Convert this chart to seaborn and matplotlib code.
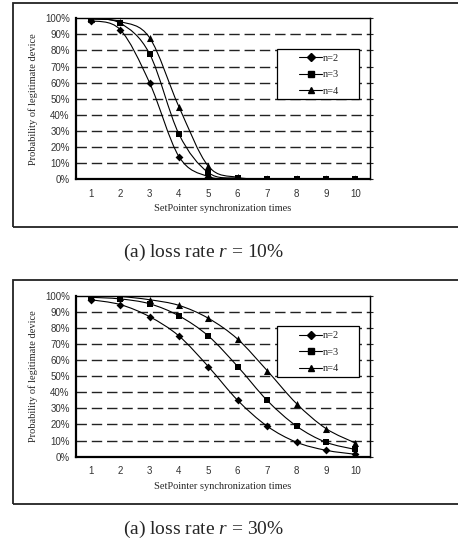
import numpy as np
import pandas as pd
import seaborn as sns
import matplotlib
matplotlib.use("Agg")
import matplotlib.pyplot as plt
from matplotlib.path import Path
from matplotlib.patches import PathPatch, Rectangle
from matplotlib.lines import Line2D

# x axis: SetPointer synchronization times
times = [1, 2, 3, 4, 5, 6, 7, 8, 9, 10]

# loss rate r = 10%
r10_n2 = [98.5, 93, 60, 14, 1.5, 0.2, 0, 0, 0, 0]
r10_n3 = [99.5, 97, 78, 28, 4, 0.5, 0, 0, 0, 0]
r10_n4 = [99.8, 98, 88, 45, 8, 1, 0, 0, 0, 0]

# loss rate r = 30%
r30_n2 = [97.5, 94.5, 87, 75, 56, 35, 19, 9, 4, 1.5]
r30_n3 = [99, 98, 95, 87.5, 75, 56, 35, 19, 9, 4.5]
r30_n4 = [100, 99.5, 97.5, 94, 86, 73, 53.5, 33, 17.5, 8.5]

series_names = ["n=2", "n=3", "n=4"]
markers = {"n=2": "D", "n=3": "s", "n=4": "^"}
msizes = {"n=2": 16, "n=3": 22, "n=4": 26}
caption_vals = ["10%", "30%"]


def smooth_path(xs, ys, k=1 / 6):
    # bezier segments through the points, like Excel "smoothed line"
    pts = np.column_stack([np.asarray(xs, float), np.asarray(ys, float)])
    n = len(pts)
    verts = [pts[0]]
    codes = [Path.MOVETO]
    for i in range(n - 1):
        p0 = pts[i - 1] if i > 0 else pts[i]
        p1 = pts[i]
        p2 = pts[i + 1]
        p3 = pts[i + 2] if i + 2 < n else pts[i + 1]
        verts += [p1 + (p2 - p0) * k, p2 - (p3 - p1) * k, p2]
        codes += [Path.CURVE4] * 3
    return Path(verts, codes)


def draw_panel(ax, data):
    df = pd.DataFrame({"times": times * 3,
                       "prob": data[0] + data[1] + data[2],
                       "n": sum([[s] * len(times) for s in series_names], [])})
    for s, ys in zip(series_names, data):
        ax.add_patch(PathPatch(smooth_path(times, ys), fill=False,
                               edgecolor="black", lw=0.8, zorder=3))
    for s in series_names:
        sub = df[df["n"] == s]
        sns.scatterplot(data=sub, x="times", y="prob", marker=markers[s],
                        s=msizes[s], color="black", edgecolor="black",
                        linewidth=0, ax=ax, zorder=4, legend=False)

    ax.set_xlim(0.5, 10.5)
    ax.set_ylim(0, 100)
    ax.set_xticks(times)
    ax.set_xticklabels([str(t) for t in times], fontsize=7,
                       family="Liberation Sans", color="#333333")
    ax.set_xticks(np.arange(1.5, 10.5, 1), minor=True)
    ax.tick_params(axis="x", which="major", length=0, pad=7)
    ax.tick_params(axis="x", which="minor", direction="in", length=3, width=0.8)
    yt = np.arange(0, 101, 10)
    ax.set_yticks(yt)
    ax.set_yticklabels([f"{v}%" for v in yt], fontsize=7,
                       family="Liberation Sans", color="#333333")
    ax.tick_params(axis="y", direction="out", length=2.5, width=0.8, pad=2,
                   right=True)
    for v in yt[1:-1]:
        ax.axhline(v, color="#222222", lw=1.0, ls=(0, (7.5, 3.5)), zorder=1)
    for sp in ax.spines.values():
        sp.set_visible(True)
        sp.set_color("black")
        sp.set_linewidth(1.0)
    ax.spines["left"].set_linewidth(1.6)
    ax.spines["bottom"].set_linewidth(1.6)
    ax.set_xlabel("SetPointer synchronization times", fontsize=7.5,
                  family="Liberation Serif", labelpad=4)
    ax.set_ylabel("Probability of legitimate device", fontsize=7.5,
                  family="Liberation Serif", labelpad=5)
    ax.grid(False)

    # legend box, drawn in axes coordinates
    ax.add_patch(Rectangle((0.684, 0.498), 0.279, 0.311, transform=ax.transAxes,
                           facecolor="white", edgecolor="black", lw=0.9,
                           zorder=5))
    handles = [Line2D([0], [0], color="black", lw=0.8, marker=markers[s],
                      markersize=4.5 if s != "n=2" else 4, label=s)
               for s in series_names]
    leg = ax.legend(handles=handles, loc="upper left",
                    bbox_to_anchor=(0.759, 0.78), frameon=False,
                    prop={"family": "Liberation Serif", "size": 7.5},
                    handlelength=2.2, handletextpad=0.1, borderpad=0,
                    labelspacing=0.68, borderaxespad=0)
    leg.set_zorder(6)


sns.set_style("white")
plt.rcParams["mathtext.fontset"] = "custom"
plt.rcParams["mathtext.rm"] = "Liberation Serif"
plt.rcParams["mathtext.it"] = "Liberation Serif:italic"

fig = plt.figure(figsize=(4.58, 5.39), dpi=100)

W, H = 458, 539
ax_specs = [(76, 18.3, 370, 179), (76, 295.7, 370, 456.7)]
box_specs = [(13, 3, 227), (13, 280, 504)]
caption_y = [252, 529]
datasets = [[r10_n2, r10_n3, r10_n4], [r30_n2, r30_n3, r30_n4]]

for i in range(2):
    l, t, r, b = ax_specs[i]
    ax = fig.add_axes([l / W, 1 - b / H, (r - l) / W, (b - t) / H])
    draw_panel(ax, datasets[i])
    bx, bt, bb = box_specs[i]
    fig.patches.append(Rectangle((bx / W, 1 - bb / H), 1.2, (bb - bt) / H,
                                 transform=fig.transFigure, fill=False,
                                 edgecolor="#222222", lw=1.3))
    fig.text(204 / W, 1 - caption_y[i] / H,
             "(a) loss rate $r$ = " + caption_vals[i],
             ha="center", va="center", fontsize=14, family="Liberation Serif")

fig.savefig("out.png", dpi=100)
